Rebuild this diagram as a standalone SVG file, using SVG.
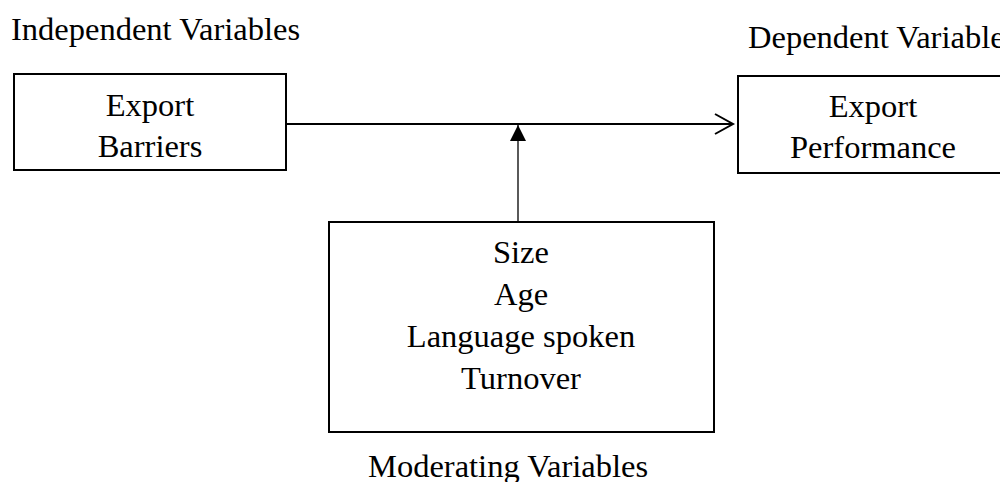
<svg xmlns="http://www.w3.org/2000/svg" width="1000" height="482" viewBox="0 0 1000 482">
  <style>
    .box { fill: #ffffff; stroke: #000000; stroke-width: 2; }
    .lbl { font-family: "Liberation Serif", "Times New Roman", serif; font-size: 32.5px; fill: #000000; }
    .mid { text-anchor: middle; }
    .edge { fill: none; stroke: #000000; }
  </style>
  <defs>
    <marker id="open-arrow" markerUnits="userSpaceOnUse" markerWidth="24" markerHeight="24" refX="19" refY="11" orient="auto" viewBox="0 0 24 22">
      <path d="M1,1 L19,11 L1,21" fill="none" stroke="#000000" stroke-width="2"/>
    </marker>
    <marker id="solid-arrow" markerUnits="userSpaceOnUse" markerWidth="18" markerHeight="16" refX="16" refY="8" orient="auto" viewBox="0 0 18 16">
      <path d="M0,0 L16,8 L0,16 Z" fill="#000000"/>
    </marker>
  </defs>

  <rect width="1000" height="482" fill="#ffffff"/>

  <!-- headings -->
  <text class="lbl" x="11" y="40">Independent Variables</text>
  <text class="lbl" x="748" y="48">Dependent Variable</text>
  <text class="lbl" x="368" y="477">Moderating Variables</text>

  <!-- connectors -->
  <g id="connectors">
    <line class="edge" x1="286" y1="124" x2="733" y2="124" stroke-width="2" marker-end="url(#open-arrow)"/>
    <line class="edge" x1="518" y1="222" x2="518" y2="125" stroke-width="1.3" marker-end="url(#solid-arrow)"/>
  </g>

  <g id="export-barriers">
    <rect class="box" x="14" y="74" width="272" height="96"/>
    <text class="lbl mid" x="150" y="116">Export</text>
    <text class="lbl mid" x="150" y="157">Barriers</text>
  </g>

  <g id="export-performance">
    <rect class="box" x="738" y="76" width="280" height="97"/>
    <text class="lbl mid" x="873" y="117">Export</text>
    <text class="lbl mid" x="873" y="158">Performance</text>
  </g>

  <g id="moderators">
    <rect class="box" x="329" y="222" width="385" height="210"/>
    <text class="lbl mid" x="521" y="263">Size</text>
    <text class="lbl mid" x="521" y="305">Age</text>
    <text class="lbl mid" x="521" y="347">Language spoken</text>
    <text class="lbl mid" x="521" y="389">Turnover</text>
  </g>
</svg>
